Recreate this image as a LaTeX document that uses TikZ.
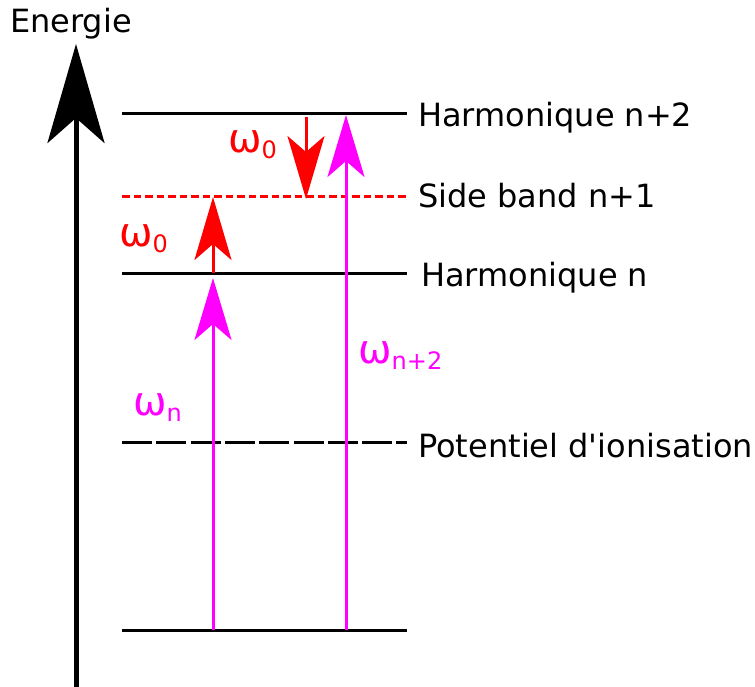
\documentclass[tikz,border=0pt]{standalone}
\usepackage{fontspec}
\setmainfont{DejaVu Sans}
\usetikzlibrary{arrows.meta}
\newcommand{\omlab}[1]{{\fontsize{40}{44}\selectfont ω}\raisebox{-6pt}{\fontsize{24}{26}\selectfont #1}}
\begin{document}
\begin{tikzpicture}[x=1pt,y=-1pt,
  lvl/.style={line width=3pt},
  lbl/.style={anchor=base west,inner sep=0pt,font=\fontsize{32}{38}\selectfont},
  wlab/.style={anchor=base west,inner sep=0pt},
  magarrow/.style={draw=magenta,line width=3pt,-{Stealth[length=62pt,width=37pt,inset=16pt]}},
  redarrow/.style={draw=red,line width=3pt,-{Stealth[length=63pt,width=37pt,inset=16pt]}}]
\useasboundingbox (0,0) rectangle (755,687);
\definecolor{magenta}{RGB}{255,0,255}
\definecolor{red}{RGB}{255,0,0}
% axis
\coordinate (axb) at (76,687);
\coordinate (axt) at (76,44);
\draw[line width=5pt,-{Stealth[length=99pt,width=57pt,inset=25pt]}] (axb) -- (axt);
\node[lbl] (en) at (10,33) {Energie};
% levels
\coordinate (g1) at (122,630); \coordinate (g2) at (407,630);
\coordinate (p1) at (122,442); \coordinate (p2) at (407,442);
\coordinate (h1) at (122,273); \coordinate (h2) at (407,273);
\coordinate (s1) at (122,197); \coordinate (s2) at (407,197);
\coordinate (t1) at (122,114); \coordinate (t2) at (407,114);
\draw[lvl] (g1) -- (g2);
\draw[lvl,dash pattern=on 30pt off 4.3pt] (p1) -- (p2);
\draw[lvl] (h1) -- (h2);
\draw[lvl,red,dash pattern=on 7.5pt off 4pt] (s1) -- (s2);
\draw[lvl] (t1) -- (t2);
\node[lbl] (lt) at (418,127) {Harmonique n+2};
\node[lbl] (ls) at (418,208) {Side band n+1};
\node[lbl] (lh) at (421,287) {Harmonique n};
\node[lbl] (lp) at (418,457) {Potentiel d\textquotesingle ionisation};
% arrows
\coordinate (a1b) at (213,630); \coordinate (a1t) at (213,278);
\coordinate (a2b) at (213,273); \coordinate (a2t) at (213,197);
\coordinate (a3b) at (306,117); \coordinate (a3t) at (306,199);
\coordinate (a4b) at (346,630); \coordinate (a4t) at (346,115);
\draw[magarrow] (a1b) -- (a1t);
\draw[redarrow] (a2b) -- (a2t);
\draw[redarrow] (a3b) -- (a3t);
\draw[magarrow] (a4b) -- (a4t);
% labels
\node[wlab,text=red] (w0a) at (228,153) {\omlab{0}};
\node[wlab,text=red] (w0b) at (119,247) {\omlab{0}};
\node[wlab,text=magenta] (wn) at (133,415) {\omlab{n}};
\node[wlab,text=magenta] (wn2) at (358,363) {\omlab{n+2}};
\end{tikzpicture}
\end{document}
